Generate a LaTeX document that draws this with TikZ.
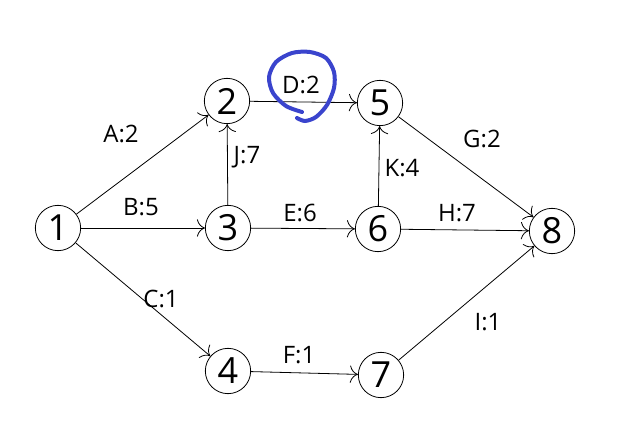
\documentclass[tikz,border=0pt]{standalone}
\usepackage{fontspec}
\setmainfont{Open Sans}
\usepackage{tikz}
\usetikzlibrary{arrows.meta}
\definecolor{handblue}{RGB}{58,68,205}

\begin{document}
\begin{tikzpicture}[x=0.75pt,y=-0.75pt,font=\fontsize{18}{20}\selectfont,
  vertex/.style={circle,draw,line width=0.6pt,minimum size=34pt,inner sep=0pt,font=\fontsize{27}{30}\selectfont},
  act/.style={-{To[length=6pt,width=13pt]},line width=0.6pt}]
\useasboundingbox (0,0) rectangle (618,448);
\foreach \n/\x/\y in {1/58/228,2/227/101,3/228/228,4/228/371,5/380/103,6/378/229,7/381/375,8/552/231}{
  \node[vertex] (n\n) at (\x,\y) {\n};}
\foreach \a/\b in {1/2,1/3,1/4,2/5,3/2,3/6,4/7,5/8,6/5,6/8,7/8}
  \draw[act] (n\a) -- (n\b);
\foreach \k/\l/\x/\y in {A/A:2/121/134,B/B:5/141/207,C/C:1/161/299,D/D:2/301/85,E/E:6/300/213,F/F:1/299/355,
  G/G:2/482/139,H/H:7/457/213,I/I:1/488/322,J/J:7/247/157,K/K:4/402/168}{
  \node (lab\k) at (\x,\y) {\l};}
% hand drawn ring round D:2
\draw[handblue,line width=3pt,line cap=round] plot[smooth] coordinates {(302,112) (286,106) (273,93) (269,77) (276,62) (292,53) (310,52) (326,58) (334,72) (334,88) (327,105) (316,117) (305,121) (297,118)};
\end{tikzpicture}
\end{document}
